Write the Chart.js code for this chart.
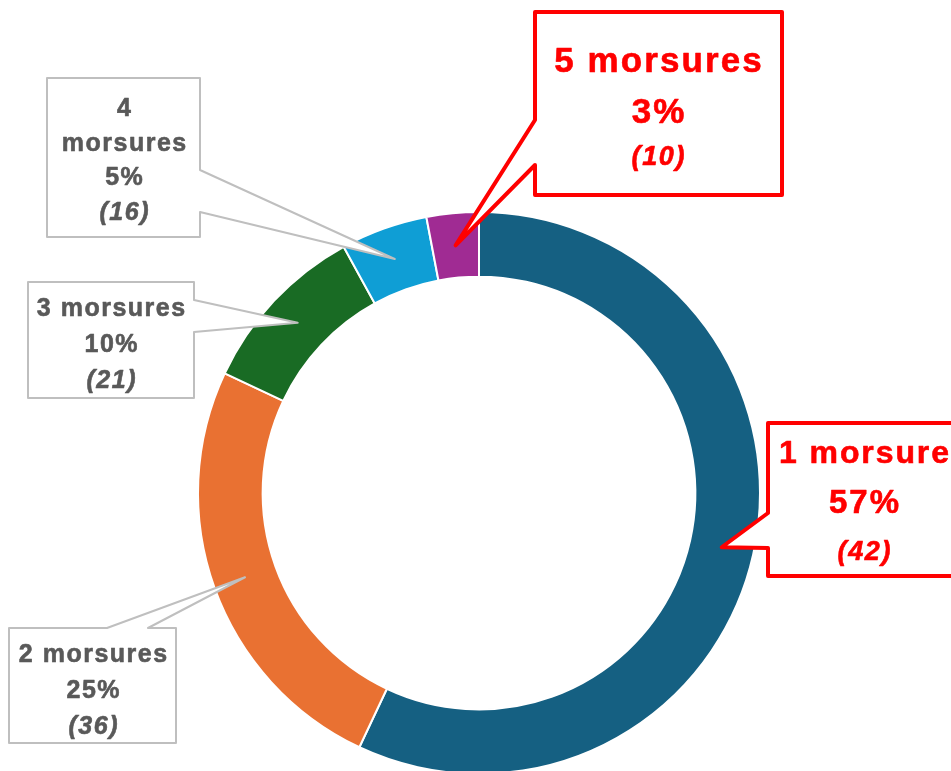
<!DOCTYPE html>
<html lang="fr">
<head>
<meta charset="utf-8">
<script src="https://cdn.jsdelivr.net/npm/chart.js@4/dist/chart.umd.min.js"></script>
<style>
    html, body { margin: 0; padding: 0; background: #fff; overflow: hidden; }
    #cadre { width: 951px; height: 780px; }
</style>
</head>
<body>
<div id="cadre"><canvas id="graphiqueMorsures" width="951" height="780"></canvas></div>
<script>
const categories = ["1 morsure", "2 morsures", "3 morsures", "4 morsures", "5 morsures"];
const pourcentages = [57, 25, 10, 5, 3];
const effectifs = [42, 36, 21, 16, 10];
const couleurs = ["#156082", "#E97132", "#196B24", "#0F9ED5", "#A02B93"];

// placement des bulles (mise en page seulement)
const bulles = [
    { x: 768, y: 423, w: 192, h: 153, cote: "gauche", base: [513, 548], cx: 864,
      lignes: [463, 513, 560], tailles: [32, 33, 27], couleur: "#FF0000", trait: 4, coupe: false },
    { x: 9, y: 628, w: 167, h: 115, cote: "haut", base: [107, 148], cx: 93,
      lignes: [662, 698, 734], tailles: [25, 25, 25], couleur: "#595959", trait: 2, coupe: false },
    { x: 28, y: 282, w: 166, h: 116, cote: "droite", base: [300, 332], cx: 111,
      lignes: [316, 352, 388], tailles: [25, 25, 25], couleur: "#595959", trait: 2, coupe: false },
    { x: 47, y: 78, w: 153, h: 159, cote: "droite", base: [170, 212], cx: 124,
      lignes: [116, 151, 185, 220], tailles: [25, 25, 25, 25], couleur: "#595959", trait: 2, coupe: true },
    { x: 535, y: 12, w: 247, h: 183, cote: "gauche", base: [120, 165], cx: 658,
      lignes: [72, 123, 165], tailles: [35, 35, 27], couleur: "#FF0000", trait: 4, coupe: false }
];

const police = '"Liberation Sans", Arial, sans-serif';

function tracerBulle(ctx, b, pointe) {
    const { x, y, w, h } = b;
    const p = [[x, y]];
    if (b.cote === "haut") p.push([b.base[0], y], pointe, [b.base[1], y]);
    p.push([x + w, y]);
    if (b.cote === "droite") p.push([x + w, b.base[0]], pointe, [x + w, b.base[1]]);
    p.push([x + w, y + h], [x, y + h]);
    if (b.cote === "gauche") p.push([x, b.base[1]], pointe, [x, b.base[0]]);

    ctx.beginPath();
    p.forEach((pt, i) => i ? ctx.lineTo(pt[0], pt[1]) : ctx.moveTo(pt[0], pt[1]));
    ctx.closePath();
    ctx.fillStyle = "#fff";
    ctx.fill();
    ctx.lineWidth = b.trait;
    ctx.lineJoin = "round";
    ctx.strokeStyle = b.couleur === "#FF0000" ? "#FF0000" : "#BFBFBF";
    ctx.stroke();
}

const pluginBulles = {
    id: "bulles",
    afterDatasetsDraw(chart) {
        const ctx = chart.ctx;
        const arcs = chart.getDatasetMeta(0).data;
        ctx.save();
        bulles.forEach((b, i) => {
            const pos = arcs[i].tooltipPosition();
            tracerBulle(ctx, b, [pos.x, pos.y]);

            let textes = [categories[i], pourcentages[i] + "%", "(" + effectifs[i] + ")"];
            if (b.coupe) {
                const mots = categories[i].split(" ");
                textes = [mots[0], mots.slice(1).join(" "), textes[1], textes[2]];
            }
            ctx.fillStyle = b.couleur;
            ctx.strokeStyle = b.couleur;
            ctx.lineWidth = 0.6;
            ctx.lineJoin = "round";
            ctx.textAlign = "center";
            ctx.textBaseline = "alphabetic";
            textes.forEach((t, j) => {
                const italique = j === textes.length - 1 ? "italic " : "";
                const taille = b.tailles[j];
                ctx.font = italique + "bold " + taille + "px " + police;
                ctx.letterSpacing = (taille * 0.06).toFixed(1) + "px";
                const x = b.cx + taille * 0.03;
                ctx.fillText(t, x, b.lignes[j]);
                ctx.strokeText(t, x, b.lignes[j]);
            });
        });
        ctx.restore();
    }
};

new Chart(document.getElementById("graphiqueMorsures"), {
    type: "doughnut",
    data: {
        labels: categories,
        datasets: [{
            data: pourcentages,
            backgroundColor: couleurs,
            borderColor: "#ffffff",
            borderWidth: 2
        }]
    },
    options: {
        responsive: false,
        animation: false,
        cutout: "77%",
        layout: { padding: { left: 197, right: 190, top: 211, bottom: 5 } },
        plugins: {
            legend: { display: false },
            tooltip: { enabled: false }
        }
    },
    plugins: [pluginBulles]
});
</script>
</body>
</html>
